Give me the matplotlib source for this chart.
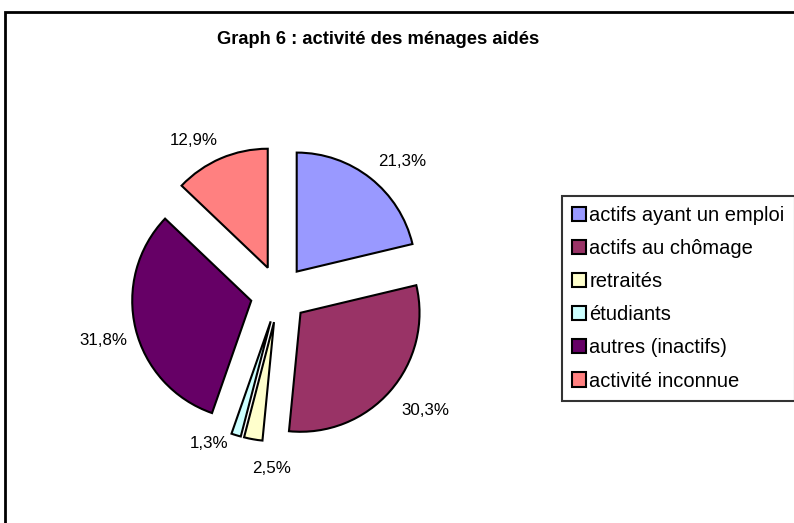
import matplotlib
matplotlib.use("Agg")
import matplotlib.pyplot as plt
from matplotlib.patches import Rectangle
import numpy as np

#----------------------------------------------------------------------------------
# data

categories = ["actifs ayant un emploi", "actifs au chômage", "retraités",
              "étudiants", "autres (inactifs)", "activité inconnue"]
values = [21.3, 30.3, 2.5, 1.3, 31.8, 12.9]
colors = ["#9999FF", "#993366", "#FFFFCC", "#CCFFFF", "#660066", "#FF8080"]

# label placement (distance in radii from the slice tip, angle nudge in degrees)
label_dist = [1.28, 1.335, 1.23, 1.15, 1.285, 1.235]
label_turn = [-5.6, 3.1, 9.2, -9.8, 1.6, 7.0]

plt.rcParams["font.family"] = ["Liberation Sans", "DejaVu Sans"]

#----------------------------------------------------------------------------------

W, H = 794, 523
fig = plt.figure(figsize=(W / 100, H / 100), dpi=100)

# outer chart frame (runs off the right and bottom edges)
fig.patches.append(Rectangle((5 / W, -0.1), 2, 1 - 12 / H + 0.1, transform=fig.transFigure,
                             fill=False, edgecolor="black", linewidth=2))

fig.text(378 / W, 1 - 39 / H, "Graph 6 : activité des ménages aidés",
         ha="center", va="center", fontsize=13.2, fontweight="bold")

# pie centred at pixel (279, 294), radius 119 px
cx, cy, r = 279, 294, 119
half = 1.5 * r
ax = fig.add_axes([(cx - half) / W, (H - cy - half) / H, 2 * half / W, 2 * half / H])

def fmt(p):
    return ("%.1f%%" % p).replace(".", ",")

wedges, texts = ax.pie(values, colors=colors, startangle=90, counterclock=False,
                       explode=[0.24] * len(values),
                       wedgeprops=dict(edgecolor="black", linewidth=1.5))
ax.set_xlim(-1.5, 1.5)
ax.set_ylim(-1.5, 1.5)
ax.axis("off")

for w, v, d, turn in zip(wedges, values, label_dist, label_turn):
    ang = np.deg2rad((w.theta1 + w.theta2) / 2 + turn)
    x0, y0 = w.center
    ax.text(x0 + d * np.cos(ang), y0 + d * np.sin(ang), fmt(v),
            ha="center", va="center", fontsize=12.2)

leg = fig.legend(wedges, categories, loc="upper left",
                 bbox_to_anchor=(562 / W, 1 - 196 / H),
                 fontsize=14.5, frameon=True, fancybox=False,
                 handlelength=0.7, handleheight=0.7, handletextpad=0.15,
                 labelspacing=0.7, borderpad=0.5, borderaxespad=0)
leg.get_frame().set_edgecolor("black")
leg.get_frame().set_linewidth(1.5)

fig.savefig("out.png", dpi=100)
